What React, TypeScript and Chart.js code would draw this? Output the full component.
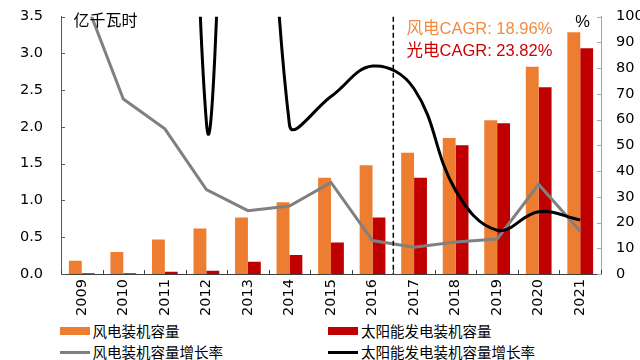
import { useEffect, useRef } from "react";
import { Chart, registerables } from "chart.js";

Chart.register(...registerables);

const years = ["2009", "2010", "2011", "2012", "2013", "2014", "2015", "2016", "2017", "2018", "2019", "2020", "2021"];
const windCapacity = [0.18, 0.3, 0.47, 0.62, 0.77, 0.975, 1.31, 1.48, 1.65, 1.85, 2.09, 2.82, 3.29];
const solarCapacity = [0.01, 0.01, 0.03, 0.045, 0.165, 0.26, 0.43, 0.77, 1.31, 1.75, 2.05, 2.54, 3.07];
const windGrowth = [110, 68, 56.4, 32.8, 24.6, 26.4, 35.6, 13, 10.4, 12.4, 13.6, 34.8, 16.6];
const solarGrowth = [null, 767, 754, 59, 340, 58, 69, 80.8, 72, 32.5, 17, 24.2, 21];
const leftTicks = { min: 0, max: 3.5, step: 0.5 };
const rightTicks = { min: 0, max: 100, step: 10 };
const cagrTexts = ["风电CAGR: 18.96%", "光电CAGR: 23.82%"];
const leftUnit = "亿千瓦时";
const rightUnit = "%";

const ORANGE = "#ED7D31";
const RED = "#C00000";
const tickFont = { family: "'DejaVu Sans', sans-serif", size: 14.5 };
const cjkFont = "'Liberation Sans', 'Noto Sans CJK SC', sans-serif";

const decorPlugin = {
  id: "decor",
  afterDatasetsDraw(chart: any) {
    const { ctx, chartArea } = chart;
    const x = chart.scales.x;
    ctx.save();
    const px = x.getPixelForValue(7.5);
    ctx.strokeStyle = "#000";
    ctx.lineWidth = 1.5;
    ctx.setLineDash([5, 3]);
    ctx.beginPath();
    ctx.moveTo(px, chartArea.top);
    ctx.lineTo(px, chartArea.bottom);
    ctx.stroke();
    ctx.restore();
  },
  afterDraw(chart: any) {
    const { ctx, chartArea } = chart;
    const { x, y, y1 } = chart.scales;
    ctx.save();
    ctx.lineWidth = 1;
    ctx.strokeStyle = "#595959";
    y.ticks.forEach((t: any) => {
      const py = Math.round(y.getPixelForValue(t.value)) + 0.5;
      ctx.beginPath();
      ctx.moveTo(chartArea.left, py);
      ctx.lineTo(chartArea.left + 4, py);
      ctx.stroke();
    });
    ctx.strokeStyle = "#A6A6A6";
    y1.ticks.forEach((t: any) => {
      const py = Math.round(y1.getPixelForValue(t.value)) + 0.5;
      ctx.beginPath();
      ctx.moveTo(chartArea.right - 4, py);
      ctx.lineTo(chartArea.right, py);
      ctx.stroke();
    });
    ctx.strokeStyle = "#404040";
    for (let i = 0; i <= years.length; i++) {
      const px = Math.round(x.getPixelForValue(i - 0.5)) + 0.5;
      ctx.beginPath();
      ctx.moveTo(px, chartArea.bottom);
      ctx.lineTo(px, chartArea.bottom - 4);
      ctx.stroke();
    }
    ctx.fillStyle = "#000";
    ctx.textBaseline = "middle";
    ctx.textAlign = "left";
    ctx.font = `16px ${cjkFont}`;
    ctx.fillText(leftUnit, chartArea.left + 12.5, chartArea.top + 4.7);
    ctx.textBaseline = "alphabetic";
    ctx.textAlign = "center";
    ctx.font = `16.5px ${cjkFont}`;
    ctx.fillText(rightUnit, chartArea.right - 18.5, chartArea.top + 10);
    ctx.textAlign = "left";
    ctx.fillStyle = "#F08A40";
    ctx.fillText(cagrTexts[0], chartArea.left + 345.5, chartArea.top + 17.7);
    ctx.fillStyle = "#CC0000";
    ctx.fillText(cagrTexts[1], chartArea.left + 345.5, chartArea.top + 39.7);
    ctx.restore();
  },
};

export default function App() {
  const ref = useRef<HTMLCanvasElement>(null);
  useEffect(() => {
    const chart = new Chart(ref.current as HTMLCanvasElement, {
      type: "bar",
      data: {
        labels: years,
        datasets: [
          {
            type: "line",
            label: "太阳能发电装机容量增长率",
            data: solarGrowth,
            yAxisID: "y1",
            borderColor: "#000",
            backgroundColor: "#000",
            borderWidth: 3,
            pointRadius: 0,
            tension: 0.4,
            order: 0,
          },
          {
            type: "line",
            label: "风电装机容量增长率",
            data: windGrowth,
            yAxisID: "y1",
            borderColor: "#808080",
            backgroundColor: "#808080",
            borderWidth: 3,
            pointRadius: 0,
            tension: 0,
            order: 1,
          },
          {
            type: "bar",
            label: "风电装机容量",
            data: windCapacity,
            yAxisID: "y",
            backgroundColor: ORANGE,
            categoryPercentage: 0.62,
            barPercentage: 1,
            order: 2,
          },
          {
            type: "bar",
            label: "太阳能发电装机容量",
            data: solarCapacity,
            yAxisID: "y",
            backgroundColor: RED,
            categoryPercentage: 0.62,
            barPercentage: 1,
            order: 2,
          },
        ] as any,
      },
      options: {
        animation: false,
        responsive: false,
        layout: { padding: { top: 15, left: 0, right: 0, bottom: 0 } },
        plugins: { legend: { display: false }, tooltip: { enabled: false } },
        scales: {
          x: {
            grid: { display: false, drawTicks: false },
            border: { display: true, color: "#404040", width: 1 },
            ticks: {
              font: tickFont,
              color: "#000",
              minRotation: 90,
              maxRotation: 90,
              padding: 5,
              autoSkip: false,
            },
            afterFit(s: any) {
              s.height = 46;
            },
          },
          y: {
            position: "left",
            min: leftTicks.min,
            max: leftTicks.max,
            ticks: {
              stepSize: leftTicks.step,
              callback: (v: any) => Number(v).toFixed(1),
              font: tickFont,
              color: "#000",
              padding: 18,
            },
            grid: { display: false, drawTicks: false },
            border: { display: true, color: "#595959", width: 1 },
            afterFit(s: any) {
              s.width = 61;
            },
          },
          y1: {
            position: "right",
            min: rightTicks.min,
            max: rightTicks.max,
            ticks: {
              stepSize: rightTicks.step,
              font: tickFont,
              color: "#000",
              padding: 15,
            },
            grid: { display: false, drawTicks: false },
            border: { display: true, color: "#A6A6A6", width: 1 },
            afterFit(s: any) {
              s.width = 59;
            },
          },
        },
      } as any,
      plugins: [decorPlugin],
    });
    return () => chart.destroy();
  }, []);

  const legendText: React.CSSProperties = {
    position: "absolute",
    fontFamily: cjkFont,
    fontSize: "14.5px",
    lineHeight: "20px",
    color: "#000",
    whiteSpace: "nowrap",
  };

  return (
    <div
      style={{
        position: "absolute",
        left: 0,
        top: 0,
        width: 640,
        height: 360,
        overflow: "hidden",
        background: "#fff",
      }}
    >
      <canvas
        ref={ref}
        width={660}
        height={330}
        style={{ position: "absolute", left: 0, top: -10, width: 660, height: 330 }}
      />
      <div style={{ position: "absolute", left: 60, top: 327, width: 30, height: 8, background: ORANGE }} />
      <div style={{ ...legendText, left: 92.5, top: 321.7 }}>风电装机容量</div>
      <div style={{ position: "absolute", left: 328, top: 327, width: 30, height: 8, background: RED }} />
      <div style={{ ...legendText, left: 361, top: 321.7 }}>太阳能发电装机容量</div>
      <div style={{ position: "absolute", left: 60, top: 351, width: 30, height: 3, background: "#808080" }} />
      <div style={{ ...legendText, left: 92.5, top: 342.7 }}>风电装机容量增长率</div>
      <div style={{ position: "absolute", left: 328, top: 351, width: 30, height: 3, background: "#000" }} />
      <div style={{ ...legendText, left: 361, top: 342.7 }}>太阳能发电装机容量增长率</div>
    </div>
  );
}
